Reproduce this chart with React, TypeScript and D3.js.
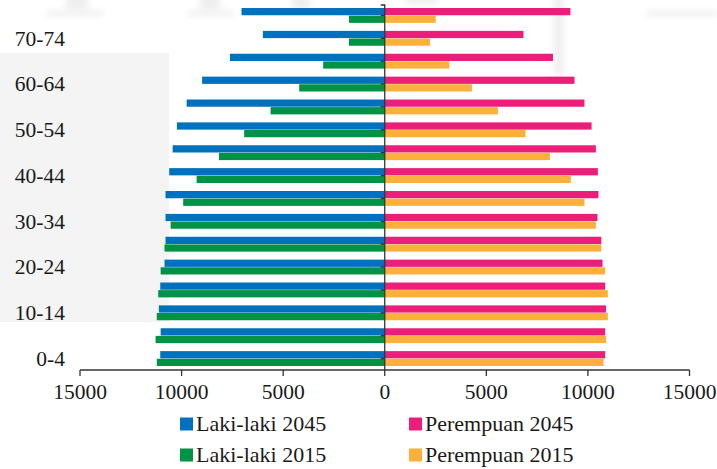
import React from "react";
import * as d3 from "d3";

const ageGroups = ["0-4","5-9","10-14","15-19","20-24","25-29","30-34","35-39","40-44","45-49","50-54","55-59","60-64","65-69","70-74","75+"];
const male2045 = [11050, 11030, 11120, 11050, 10840, 10790, 10790, 10790, 10610, 10440, 10230, 9750, 8990, 7620, 6000, 7050];
const male2015 = [11220, 11280, 11220, 11150, 11030, 10840, 10540, 9920, 9260, 8160, 6920, 5620, 4210, 3030, 1760, 1760];
const female2045 = [10850, 10850, 10890, 10850, 10720, 10660, 10470, 10520, 10490, 10390, 10180, 9830, 9340, 8280, 6830, 9140];
const female2015 = [10770, 10890, 10980, 10980, 10850, 10660, 10390, 9830, 9160, 8130, 6930, 5570, 4290, 3180, 2230, 2510];
const xTicks = [-15000, -10000, -5000, 0, 5000, 10000, 15000];
const legendItems = ["Laki-laki 2045", "Perempuan 2045", "Laki-laki 2015", "Perempuan 2015"];

const BLUE = "#0071BC";
const GREEN = "#009245";
const PINK = "#ED1E79";
const ORANGE = "#FBB03B";
const FONT = "'Liberation Serif', 'Times New Roman', serif";

export default function App() {
  const W = 717, H = 469;
  const x = d3.scaleLinear().domain([-15000, 15000]).range([80, 689.5]);
  const y = d3.scaleBand<string>().domain(ageGroups).range([370, 4]).paddingInner(0.35).paddingOuter(0.175);
  const sub = d3.scaleBand<string>().domain(["a", "b"]).range([0, y.bandwidth()]).paddingInner(0.05);
  const axisColor = "#333";

  const series = [
    { key: "a", vals: male2045, sign: -1, color: BLUE },
    { key: "b", vals: male2015, sign: -1, color: GREEN },
    { key: "a", vals: female2045, sign: 1, color: PINK },
    { key: "b", vals: female2015, sign: 1, color: ORANGE },
  ];
  const legendColors = [BLUE, PINK, GREEN, ORANGE];

  return (
    <svg width={W} height={H} style={{ position: "absolute", left: 0, top: 0, background: "#fff" }} fontFamily={FONT}>
      <defs>
        <filter id="blur" x="-50%" y="-50%" width="200%" height="200%">
          <feGaussianBlur stdDeviation="3" />
        </filter>
      </defs>
      {/* faint background watermark */}
      <rect x={0} y={53} width={169} height={269} fill="#f4f4f4" />
      <g fill="#eeeeee" filter="url(#blur)">
        <rect x={47} y={11} width={56} height={5} />
        <rect x={66} y={-5} width={22} height={14} />
        <rect x={187} y={11} width={46} height={5} />
        <rect x={200} y={-5} width={20} height={14} />
        <rect x={292} y={-5} width={18} height={14} />
        <rect x={405} y={-5} width={32} height={9} />
        <rect x={554} y={-5} width={9} height={80} />
        <rect x={647} y={11} width={70} height={5} />
      </g>

      {/* bars */}
      {series.map((s, si) => (
        <g key={si} fill={s.color}>
          {ageGroups.map((g, i) => {
            const v = s.vals[i] * s.sign;
            const x0 = Math.min(x(0), x(v));
            const w = Math.abs(x(v) - x(0));
            return (
              <rect key={g} x={x0} y={(y(g) as number) + (sub(s.key) as number)} width={w} height={sub.bandwidth()} />
            );
          })}
        </g>
      ))}

      {/* vertical axis */}
      <g stroke={axisColor} strokeWidth={1.3} fill="none">
        <path d={`M${x(0) - 4},${y.range()[1] + 1}H${x(0)}V${y.range()[0]}`} />
        {ageGroups.map((g) => {
          const cy = (y(g) as number) + y.bandwidth() / 2;
          return <line key={g} x1={x(0) - 4} x2={x(0)} y1={cy} y2={cy} />;
        })}
      </g>

      {/* category labels */}
      <g fontSize={21.5} fill="#1a1a1a" textAnchor="end">
        {ageGroups.map((g, i) =>
          i % 2 === 0 ? (
            <text key={g} x={65} y={(y(g) as number) + y.bandwidth() / 2} dy="0.34em">
              {g}
            </text>
          ) : null
        )}
      </g>

      {/* x axis */}
      <g>
        <path d={`M${x(-15000)},370H${x(15000)}`} stroke={axisColor} strokeWidth={1.3} fill="none" />
        {xTicks.map((t) => (
          <g key={t} transform={`translate(${x(t)},370)`}>
            <line y1={0} y2={6} stroke={axisColor} strokeWidth={1.3} />
            <text y={29} textAnchor="middle" fontSize={21.5} fill="#1a1a1a">
              {d3.format("d")(Math.abs(t))}
            </text>
          </g>
        ))}
      </g>

      {/* legend */}
      <g fontSize={22} fill="#1a1a1a">
        {legendItems.map((name, i) => {
          const col = i % 2;
          const row = Math.floor(i / 2);
          const lx = col === 0 ? 180 : 409;
          const ly = row === 0 ? 424 : 455;
          return (
            <g key={name}>
              <rect x={lx} y={ly - 6.5} width={13} height={13} fill={legendColors[i]} />
              <text x={lx + 16} y={ly} dy="0.34em">{name}</text>
            </g>
          );
        })}
      </g>
    </svg>
  );
}
